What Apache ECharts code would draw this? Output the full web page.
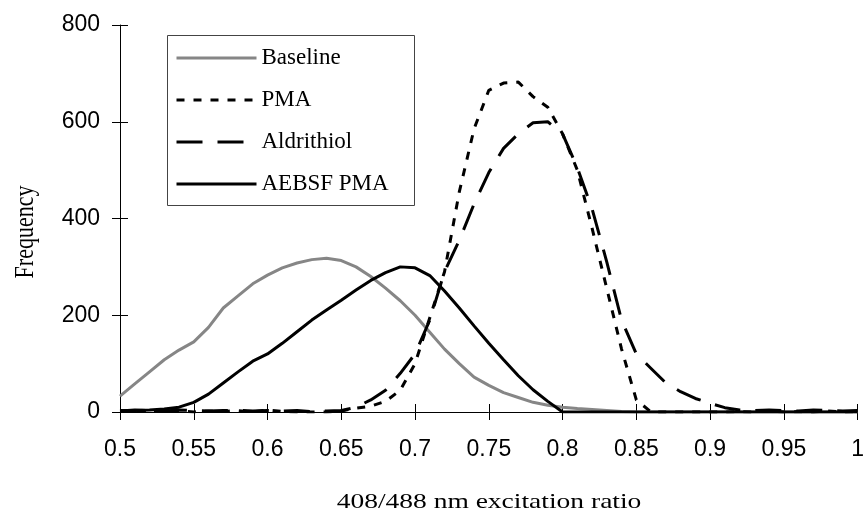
<!DOCTYPE html>
<html>
<head>
<meta charset="utf-8">
<script src="https://cdn.jsdelivr.net/npm/echarts@6/dist/echarts.min.js"></script>
<style>
html,body{margin:0;padding:0;background:#fff;}
#chart{width:867px;height:515px;}
</style>
</head>
<body>
<div id="chart"></div>
<script>
// x positions (408/488 nm excitation ratio)
const ratios = [0.50,0.51,0.52,0.53,0.54,0.55,0.56,0.57,0.58,0.59,
  0.60,0.61,0.62,0.63,0.64,0.65,0.66,0.67,0.68,0.69,
  0.70,0.71,0.72,0.73,0.74,0.75,0.76,0.77,0.78,0.79,
  0.80,0.81,0.82,0.83,0.84,0.85,0.86,0.87,0.88,0.89,
  0.90,0.91,0.92,0.93,0.94,0.95,0.96,0.97,0.98,0.99,1.00];

const baseline = [33,58,83,108,128,145,175,215,240,265,
  283,298,308,315,318,313,300,280,256,230,
  200,165,130,100,72,55,40,30,20,14,
  10,7,5,3,1,0,0,0,0,0,
  0,0,0,0,0,0,0,0,0,0,0];

const pma = [3,2,3,1,2,0,2,1,3,0,
  4,1,0,0,0,2,8,12,22,45,
  100,195,290,455,585,665,680,682,652,630,
  575,500,380,255,130,25,0,0,0,0,
  0,0,1,0,2,0,1,0,2,0,1];

const aldrithiol = [2,4,3,2,4,3,2,3,4,2,
  3,2,3,1,2,3,10,25,45,80,
  120,190,290,355,430,495,545,575,598,600,
  575,505,420,310,190,120,90,60,42,28,
  18,9,4,3,4,3,2,4,3,2,3];

const aebsf = [2,3,4,6,10,20,37,60,83,105,
  120,142,166,190,211,231,252,272,288,300,
  298,282,250,215,178,142,108,75,46,22,
  0,0,0,0,0,0,0,0,0,0,
  0,0,0,0,0,0,0,0,0,0,0];

const seriesNames = ['Baseline','PMA','Aldrithiol','AEBSF PMA'];
const xTitle = '408/488 nm excitation ratio';
const yTitle = 'Frequency';

function pairs(vals){ return ratios.map((r,i)=>[r, vals[i]]); }

const chart = echarts.init(document.getElementById('chart'), null, {renderer:'canvas'});
const tickFont = {fontFamily:'"Liberation Sans", Arial, sans-serif', fontSize:23, color:'#000'};
const serif = '"Liberation Serif", "Times New Roman", serif';

const option = {
  animation:false,
  backgroundColor:'#fff',
  grid:{left:120, right:7, top:25, bottom:103},
  xAxis:[{
    type:'value', min:0.5, max:1, interval:0.05,
    axisLine:{show:true, onZero:false, lineStyle:{color:'#000', width:1}},
    axisTick:{show:true, inside:false, length:8, lineStyle:{color:'#000'}},
    axisLabel:{...tickFont, margin:26, formatter:v=>String(+v.toFixed(2))},
    splitLine:{show:false}
  },{
    type:'value', min:0.5, max:1, interval:0.05, position:'bottom',
    axisLine:{show:false, onZero:false},
    axisTick:{show:true, inside:true, length:8, lineStyle:{color:'#000'}},
    axisLabel:{show:false}, splitLine:{show:false}
  }],
  yAxis:[{
    type:'value', min:0, max:800, interval:200,
    axisLine:{show:true, onZero:false, lineStyle:{color:'#000', width:1}},
    axisTick:{show:true, inside:false, length:8, lineStyle:{color:'#000'}},
    axisLabel:{...tickFont, margin:20},
    splitLine:{show:false}
  },{
    type:'value', min:0, max:800, interval:200, position:'left',
    axisLine:{show:false, onZero:false},
    axisTick:{show:true, inside:true, length:8, lineStyle:{color:'#000'}},
    axisLabel:{show:false}, splitLine:{show:false}
  }],
  legend:{
    show:true, orient:'vertical', left:165, top:33,
    padding:[13,10,8,10],
    itemWidth:80, itemHeight:14, itemGap:18,
    itemStyle:{opacity:0},
    lineStyle:{width:3},
    textStyle:{fontFamily:serif, fontSize:23, color:'#000', lineHeight:24},
    data:seriesNames
  },
  graphic:[
    {type:'rect', left:165, top:33, shape:{width:247, height:170}, style:{fill:'none', stroke:'#444', lineWidth:1}, z:-1, silent:true},
    {type:'text', x:26, y:232, rotation:Math.PI/2, scaleY:1.25,
      style:{text:yTitle, font:'22px '+serif, fill:'#000', align:'center', verticalAlign:'middle'}},
    {type:'text', x:489, y:502, scaleX:1.25,
      style:{text:xTitle, font:'22px '+serif, fill:'#000', align:'center', verticalAlign:'middle'}}
  ],
  series:[
    {name:seriesNames[0], type:'line', data:pairs(baseline), symbol:'none', smooth:false,
      lineStyle:{color:'#868686', width:3, type:'solid'}, itemStyle:{color:'#868686'}, z:2},
    {name:seriesNames[1], type:'line', data:pairs(pma), symbol:'none', smooth:false,
      lineStyle:{color:'#000', width:3, type:[8,9]}, itemStyle:{color:'#000'}, z:3},
    {name:seriesNames[2], type:'line', data:pairs(aldrithiol), symbol:'none', smooth:false,
      lineStyle:{color:'#000', width:3, type:[26,15]}, itemStyle:{color:'#000'}, z:3},
    {name:seriesNames[3], type:'line', data:pairs(aebsf), symbol:'none', smooth:false,
      lineStyle:{color:'#000', width:3, type:'solid'}, itemStyle:{color:'#000'}, z:4}
  ]
};
chart.setOption(option);
</script>
</body>
</html>
